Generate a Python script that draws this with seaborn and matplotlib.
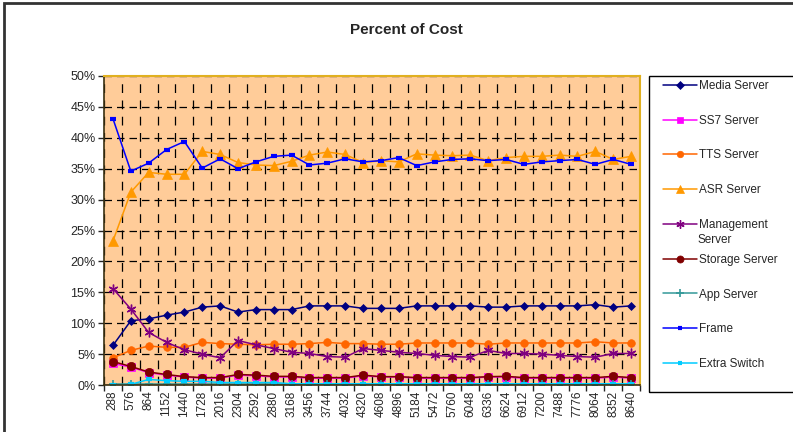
import numpy as np
import pandas as pd
import matplotlib
matplotlib.use("Agg")
import matplotlib.pyplot as plt
import seaborn as sns
from matplotlib.patches import Rectangle
from matplotlib.ticker import PercentFormatter, FixedLocator

# data (percent of cost)
ports = [288, 576, 864, 1152, 1440, 1728, 2016, 2304, 2592, 2880, 3168, 3456, 3744, 4032, 4320,
         4608, 4896, 5184, 5472, 5760, 6048, 6336, 6624, 6912, 7200, 7488, 7776, 8064, 8352, 8640]

media = [6.4, 10.4, 10.7, 11.3, 11.8, 12.6, 12.8, 11.8, 12.2, 12.2, 12.2, 12.8, 12.8, 12.8, 12.4,
         12.4, 12.4, 12.8, 12.8, 12.8, 12.8, 12.6, 12.6, 12.8, 12.8, 12.8, 12.8, 13.0, 12.6, 12.8]
ss7 = [3.5, 2.9, 2.0, 1.6, 1.3, 1.1, 1.1, 1.6, 1.5, 1.3, 1.3, 1.1, 1.1, 1.1, 1.5,
       1.3, 1.3, 1.1, 1.1, 1.1, 1.1, 1.3, 1.3, 1.1, 1.1, 1.1, 1.1, 1.1, 1.3, 1.1]
tts = [4.4, 5.6, 6.3, 6.1, 6.1, 6.9, 6.7, 6.6, 6.5, 6.6, 6.6, 6.7, 6.9, 6.7, 6.7,
       6.6, 6.6, 6.8, 6.8, 6.8, 6.8, 6.6, 6.8, 6.8, 6.8, 6.8, 6.8, 7.0, 6.8, 6.8]
asr = [23.3, 31.2, 34.4, 34.1, 34.1, 37.8, 37.3, 36.0, 35.6, 35.5, 36.2, 37.2, 37.7, 37.3, 36.0,
       36.3, 36.1, 37.4, 37.2, 37.1, 37.2, 36.3, 36.8, 37.0, 37.0, 37.2, 37.0, 37.8, 36.5, 37.0]
mgmt = [15.6, 12.3, 8.5, 6.9, 5.7, 5.0, 4.4, 7.2, 6.5, 5.9, 5.3, 5.1, 4.6, 4.5, 5.9,
        5.6, 5.3, 5.1, 4.8, 4.6, 4.5, 5.6, 5.1, 5.1, 5.0, 4.8, 4.6, 4.5, 5.1, 5.1]
storage = [3.8, 3.0, 2.1, 1.7, 1.35, 1.2, 1.2, 1.7, 1.6, 1.4, 1.4, 1.2, 1.2, 1.2, 1.6,
           1.35, 1.35, 1.2, 1.2, 1.2, 1.2, 1.35, 1.4, 1.2, 1.2, 1.2, 1.2, 1.2, 1.4, 1.2]
app = [0.1, 0.1, 0.1, 0.1, 0.1, 0.1, 0.1, 0.1, 0.1, 0.1, 0.1, 0.1, 0.1, 0.1, 0.1,
       0.1, 0.1, 0.1, 0.1, 0.1, 0.1, 0.1, 0.1, 0.1, 0.1, 0.1, 0.1, 0.1, 0.1, 0.1]
frame = [43.1, 34.6, 35.9, 38.1, 39.4, 35.1, 36.6, 35.0, 36.1, 37.0, 37.2, 35.6, 35.9, 36.6, 36.1,
         36.3, 36.8, 35.5, 36.1, 36.5, 36.6, 36.3, 36.5, 35.7, 36.1, 36.3, 36.5, 35.7, 36.5, 35.7]
extra = [0.0, 0.1, 0.9, 0.7, 0.6, 0.6, 0.4, 0.4, 0.4, 0.4, 0.2, 0.2, 0.2, 0.2, 0.2,
         0.2, 0.2, 0.2, 0.2, 0.2, 0.2, 0.2, 0.2, 0.2, 0.2, 0.2, 0.2, 0.2, 0.2, 0.2]

series_names = ["Media Server", "SS7 Server", "TTS Server", "ASR Server", "Management",
                "Storage Server", "App Server", "Frame", "Extra Switch"]
series_vals = [media, ss7, tts, asr, mgmt, storage, app, frame, extra]

# style per series: color, marker, marker size, marker edge width
styles = [
    ("#000080", "D", 4.5, 0.5),
    ("#FF00FF", "s", 5.5, 0.5),
    ("#FF6600", "o", 5.5, 0.5),
    ("#FF9900", "^", 7, 0.5),
    ("#800080", (6, 2, 0), 7, 1.0),
    ("#800000", "o", 6, 0.5),
    ("#339999", "+", 6, 1.2),
    ("#0000FF", "_", 4, 3.0),
    ("#00CCFF", "_", 4, 3.0),
]

sns.set_style("white")
plt.rcParams["font.family"] = ["Liberation Sans", "DejaVu Sans"]

fig = plt.figure(figsize=(7.93, 4.32), dpi=100)
ax = fig.add_axes([104 / 793, 1 - 385 / 432, 536 / 793, 309 / 432])
ax.set_facecolor("#FFCC99")

pos = np.arange(len(ports))
for name, vals, (col, mk, ms, mew) in zip(series_names, series_vals, styles):
    df = pd.DataFrame({"pos": pos, "pct": vals})
    sns.lineplot(data=df, x="pos", y="pct", ax=ax, color=col, marker=mk, markersize=ms,
                 markeredgewidth=mew, markeredgecolor=col, linewidth=1.1, label=name, legend=False)

ax.set_xlim(-0.5, len(ports) - 0.5)
ax.set_ylim(0, 50)
ax.set_yticks(np.arange(0, 51, 5))
ax.yaxis.set_major_formatter(PercentFormatter(decimals=0))
ax.set_xticks(pos)
ax.set_xticklabels([str(p) for p in ports], rotation=90, fontsize=8.5)
ax.xaxis.set_minor_locator(FixedLocator(np.arange(-0.5, len(ports), 1)))
ax.tick_params(axis="y", labelsize=9, length=4, width=1, direction="out", left=True, pad=2)
ax.tick_params(axis="x", which="major", length=0, pad=4)
ax.tick_params(axis="x", which="minor", length=4, width=1, direction="out", bottom=True)
ax.set_xlabel("")
ax.set_ylabel("")

ax.grid(axis="y", which="major", color="black", linestyle=(0, (6, 4)), linewidth=0.9)
ax.grid(axis="x", which="minor", color="black", linestyle=(0, (7, 6)), linewidth=0.9)
ax.set_axisbelow(True)

for side in ["left", "bottom"]:
    ax.spines[side].set_color("#3a3010")
    ax.spines[side].set_linewidth(1.2)
for side in ["top", "right"]:
    ax.spines[side].set_color("#E0B020")
    ax.spines[side].set_linewidth(1.5)

fig.text(406 / 793, 1 - 30 / 432, "Percent of Cost", ha="center", va="center",
         fontsize=11, fontweight="bold")

# legend in its own box, outside the plot on the right
handles, labels = ax.get_legend_handles_labels()
fig.legend(handles, labels, loc="upper left", bbox_to_anchor=(657 / 793, 1 - 74 / 432),
           frameon=False, fontsize=8.5, handlelength=2.9, handletextpad=0.15,
           labelspacing=1.93, borderpad=0, markerscale=0.85)
# second line of the "Management Server" entry
fig.text(698 / 793, 1 - 240 / 432, "Server", ha="left", va="center", fontsize=8.5)
fig.patches.append(Rectangle((649 / 793, 1 - 392 / 432), 0.3, (392 - 76) / 432,
                             transform=fig.transFigure, fill=False, edgecolor="black",
                             linewidth=1.0))
# outer chart border
fig.patches.append(Rectangle((4 / 793, -0.1), 1.2, 1.1 - 3 / 432,
                             transform=fig.transFigure, fill=False, edgecolor="#333333",
                             linewidth=2.0))

fig.savefig("out.png", dpi=100)
